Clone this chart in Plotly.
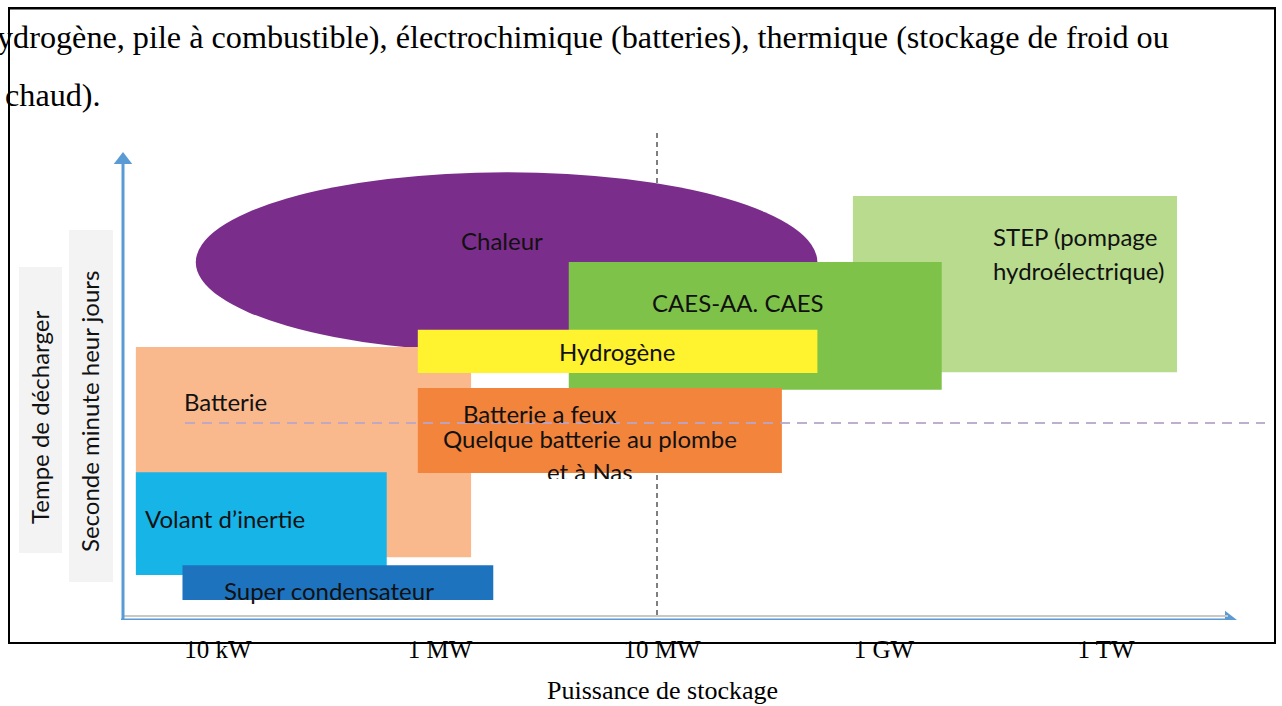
import plotly.graph_objects as go

# ---------------- data ----------------
# power axis: index of the tick labels (0 = 10 kW ... 4 = 1 TW)
power_ticks = ["10 kW", "1 MW", "10 MW", "1 GW", "1 TW"]
power_tick_pos = [0, 1, 2, 3, 4]

# each technology: extent along the power index and the discharge-time index
technologies = ["Chaleur", "STEP", "CAES-AA. CAES", "Batterie", "Hydrogène",
                "Batterie a feux", "Volant d’inertie", "Super condensateur"]
power_min = [-0.10, 2.86, 1.58, -0.37, 0.90, 0.90, -0.37, -0.16]
power_max = [2.70, 4.32, 3.26, 1.14, 2.70, 2.54, 0.76, 1.24]
time_min = [5.76, 5.33, 4.95, 1.35, 5.31, 3.16, 0.97, 0.43]
time_max = [9.63, 9.12, 7.70, 5.87, 6.24, 4.99, 3.18, 1.18]

# ---------------- style ----------------
kinds = ["circle", "rect", "rect", "rect", "rect", "rect", "rect", "rect"]
fills = ["#7B2D8B", "#B8DB8E", "#7EC24A", "#FAB98C", "#FFF22E",
         "#F2843C", "#17B4E8", "#1E73BE"]

W, H = 1282, 706
L, R, T, B = 100, 1270, 125, 620          # plot area in pixels
X0PX, XSTEP = 218.0, 222.0                # pixel of first power tick, pixels per tick
Y0PX, YSTEP = 620.0, 46.5                 # pixel of time origin, pixels per time unit


def dx(p):
    return (p - X0PX) / XSTEP


def dy(p):
    return (Y0PX - p) / YSTEP


def fx(p):
    return (p - L) / (R - L)


def fy(p):
    return (B - p) / (B - T)


BLUE = "#5B9BD5"
LABEL_FONT = dict(family="Lato", size=24, color="#111111")
SERIF = "Liberation Serif"

shapes = []
annotations = []

# vertical dashed line at 10 MW (under the areas)
shapes.append(dict(type="line", xref="x", yref="y", x0=dx(657), x1=dx(657),
                   y0=dy(615), y1=dy(133), line=dict(color="#7F7F7F", width=2, dash="5px,4px")))

# technology areas
for k, c, a, b, t0, t1 in zip(kinds, fills, power_min, power_max, time_min, time_max):
    shapes.append(dict(type=k, xref="x", yref="y", x0=a, x1=b, y0=t0, y1=t1,
                       fillcolor=c, line=dict(width=0), layer="above"))

# horizontal dashed line (over the areas)
shapes.append(dict(type="line", xref="x", yref="y", x0=dx(185), x1=dx(1265),
                   y0=dy(423), y1=dy(423),
                   line=dict(color="rgba(185,165,200,0.9)", width=2, dash="10px,7px")))

# axes of the diagram
shapes.append(dict(type="line", xref="x", yref="y", x0=dx(123), x1=dx(1228),
                   y0=dy(616), y1=dy(616), line=dict(color="#C8C8C8", width=2)))
shapes.append(dict(type="line", xref="x", yref="y", x0=dx(121), x1=dx(1226),
                   y0=dy(620), y1=dy(620), line=dict(color=BLUE, width=3)))
shapes.append(dict(type="line", xref="x", yref="y", x0=dx(123), x1=dx(123),
                   y0=dy(621), y1=dy(164), line=dict(color=BLUE, width=3)))

# y title backgrounds
shapes.append(dict(type="rect", xref="paper", yref="paper", x0=fx(19), x1=fx(62),
                   y0=fy(553), y1=fy(267), fillcolor="#F3F3F3", line=dict(width=0)))
shapes.append(dict(type="rect", xref="paper", yref="paper", x0=fx(69), x1=fx(113),
                   y0=fy(582), y1=fy(230), fillcolor="#F3F3F3", line=dict(width=0)))


# page frame (edges drawn as thin filled bands)
def band(x0, x1, y0, y1):
    shapes.append(dict(type="rect", xref="paper", yref="paper", x0=fx(x0), x1=fx(x1),
                       y0=fy(y1), y1=fy(y0), fillcolor="black", line=dict(width=0)))


band(8, 1276, 7, 9.5)      # top
band(8, 1276, 642, 644)    # bottom
band(8, 10, 7, 644)        # left
band(1274, 1276, 7, 644)   # right

# the same frame once more as an empty bordered text box (draws the top edge too)
annotations.append(dict(text=" ", xref="paper", yref="paper", x=fx(8), y=fy(7),
                        xanchor="left", yanchor="top", showarrow=False,
                        width=1264, height=633, borderpad=0, borderwidth=2,
                        bordercolor="black", bgcolor="rgba(0,0,0,0)"))


def lab(text, xp, yp, anchor="center", **kw):
    d = dict(text=text, xref="x", yref="y", x=dx(xp), y=dy(yp), showarrow=False,
             xanchor=anchor, yanchor="middle", font=LABEL_FONT)
    d.update(kw)
    annotations.append(d)


def ptext(text, xp, yp, font, xanchor="center", **kw):
    d = dict(text=text, xref="paper", yref="paper", x=fx(xp), y=fy(yp), showarrow=False,
             xanchor=xanchor, yanchor="middle", font=font)
    d.update(kw)
    annotations.append(d)


lab("Chaleur", 502, 240)
lab("STEP (pompage", 991, 236, anchor="left")
lab("hydroélectrique)", 991, 270, anchor="left")
lab("CAES-AA. CAES", 738, 302)
lab("Hydrogène", 617, 351)
lab("Batterie", 182, 401, anchor="left")
lab("Batterie a feux", 540, 413)
lab("Quelque batterie au plombe", 590, 438)
annotations.append(dict(text="et à Nas", xref="x", yref="y", x=dx(590), y=dy(455),
                        xanchor="center", yanchor="top", showarrow=False, height=22,
                        valign="top", font=LABEL_FONT))
lab("Volant d’inertie", 143, 518, anchor="left")
lab("Super condensateur", 329, 590)

# y titles
ptext("Tempe de décharger", 39, 418, LABEL_FONT, textangle=-90)
ptext("Seconde minute heur jours", 89, 412, LABEL_FONT, textangle=-90)

# x title
ptext("Puissance de stockage", 662, 690, dict(family=SERIF, size=26, color="black"))

# surrounding document text
ptext("ydrogène, pile à combustible), électrochimique (batteries), "
      "thermique (stockage de froid ou", -5, 37,
      dict(family=SERIF, size=32.2, color="black"), xanchor="left")
ptext("chaud).", 3, 95, dict(family=SERIF, size=32.2, color="black"), xanchor="left")

fig = go.Figure()
# arrow heads of the diagram axes
fig.add_trace(go.Scatter(x=[dx(123)], y=[dy(160)], mode="markers", hoverinfo="skip",
                         marker=dict(symbol="triangle-up", size=16, color=BLUE)))
fig.add_trace(go.Scatter(x=[dx(1229)], y=[dy(620)], mode="markers", hoverinfo="skip",
                         marker=dict(symbol="triangle-right", size=16, color=BLUE)))

fig.update_layout(
    width=W, height=H,
    margin=dict(l=L, r=W - R, t=T, b=H - B),
    paper_bgcolor="white", plot_bgcolor="white",
    showlegend=False,
    shapes=shapes, annotations=annotations,
    xaxis=dict(range=[dx(L), dx(R)], tickvals=power_tick_pos, ticktext=power_ticks,
               tickfont=dict(family=SERIF, size=25, color="black"),
               ticks="outside", ticklen=7, tickcolor="rgba(0,0,0,0)",
               showgrid=False, zeroline=False, showline=False, fixedrange=True),
    yaxis=dict(range=[dy(B), dy(T)], showticklabels=False, showgrid=False,
               zeroline=False, showline=False, fixedrange=True),
)

fig.write_html("out.html", config={"displayModeBar": False},
               post_script="document.documentElement.style.margin='0px';"
                           "document.documentElement.style.padding='0px';"
                           "document.body.style.margin='0px';"
                           "document.body.style.padding='0px';"
                           "document.body.style.overflow='hidden';"
                           "window.scrollTo(0,0);")
